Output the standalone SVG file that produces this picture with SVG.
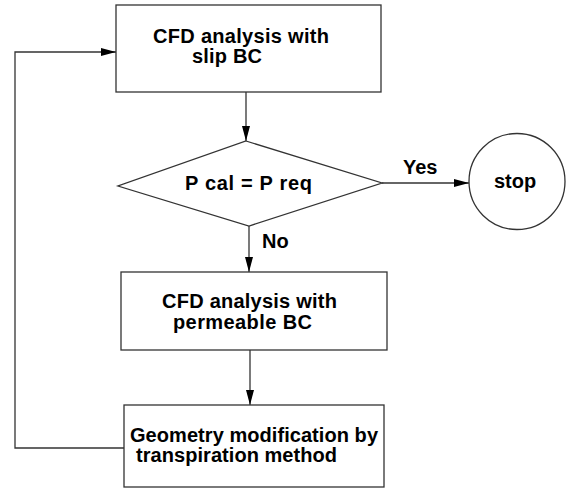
<svg xmlns="http://www.w3.org/2000/svg" width="567" height="491" viewBox="0 0 567 491">
<defs>
<marker id="arr" markerWidth="16" markerHeight="10" refX="15" refY="5" orient="auto" markerUnits="userSpaceOnUse">
<path d="M0,1 L15,5 L0,9 Z" fill="#000"/>
</marker>
<style>
.shape{fill:#fff;stroke:#333;stroke-width:1.3}
.conn{fill:none;stroke:#333;stroke-width:1.3;marker-end:url(#arr)}
text{font-family:"Liberation Sans",Arial,sans-serif;font-weight:bold;font-size:20px;fill:#000}
</style>
</defs>
<rect width="567" height="491" fill="#fff"/>
<g id="connectors">
<path class="conn" d="M246,92 L246,141"/>
<path class="conn" d="M382,183 L469,183"/>
<path class="conn" d="M249,226 L249,272"/>
<path class="conn" d="M250,350 L250,405"/>
<path class="conn" d="M124,448 L15,448 L15,52 L116,52"/>
<text x="403" y="174">Yes</text>
<text x="262" y="248">No</text>
</g>
<g id="cfd-slip">
<rect class="shape" x="116" y="5" width="265" height="87"/>
<text x="153" y="43" textLength="176" lengthAdjust="spacing">CFD analysis with</text>
<text x="192" y="63" textLength="70" lengthAdjust="spacing">slip BC</text>
</g>
<g id="decision">
<polygon class="shape" points="246,141 382,183 249,226 118,186"/>
<text x="185" y="190" textLength="127" lengthAdjust="spacing">P cal = P req</text>
</g>
<g id="stop">
<circle class="shape" cx="517" cy="181.5" r="48"/>
<text x="515" y="188" text-anchor="middle">stop</text>
</g>
<g id="cfd-permeable">
<rect class="shape" x="121" y="272" width="266" height="78"/>
<text x="162" y="308" textLength="175" lengthAdjust="spacing">CFD analysis with</text>
<text x="173" y="329" textLength="139" lengthAdjust="spacing">permeable BC</text>
</g>
<g id="geometry">
<rect class="shape" x="124" y="405" width="260" height="82"/>
<text x="130" y="442" textLength="248" lengthAdjust="spacing">Geometry modification by</text>
<text x="136" y="462" textLength="201" lengthAdjust="spacing">transpiration method</text>
</g>
</svg>
